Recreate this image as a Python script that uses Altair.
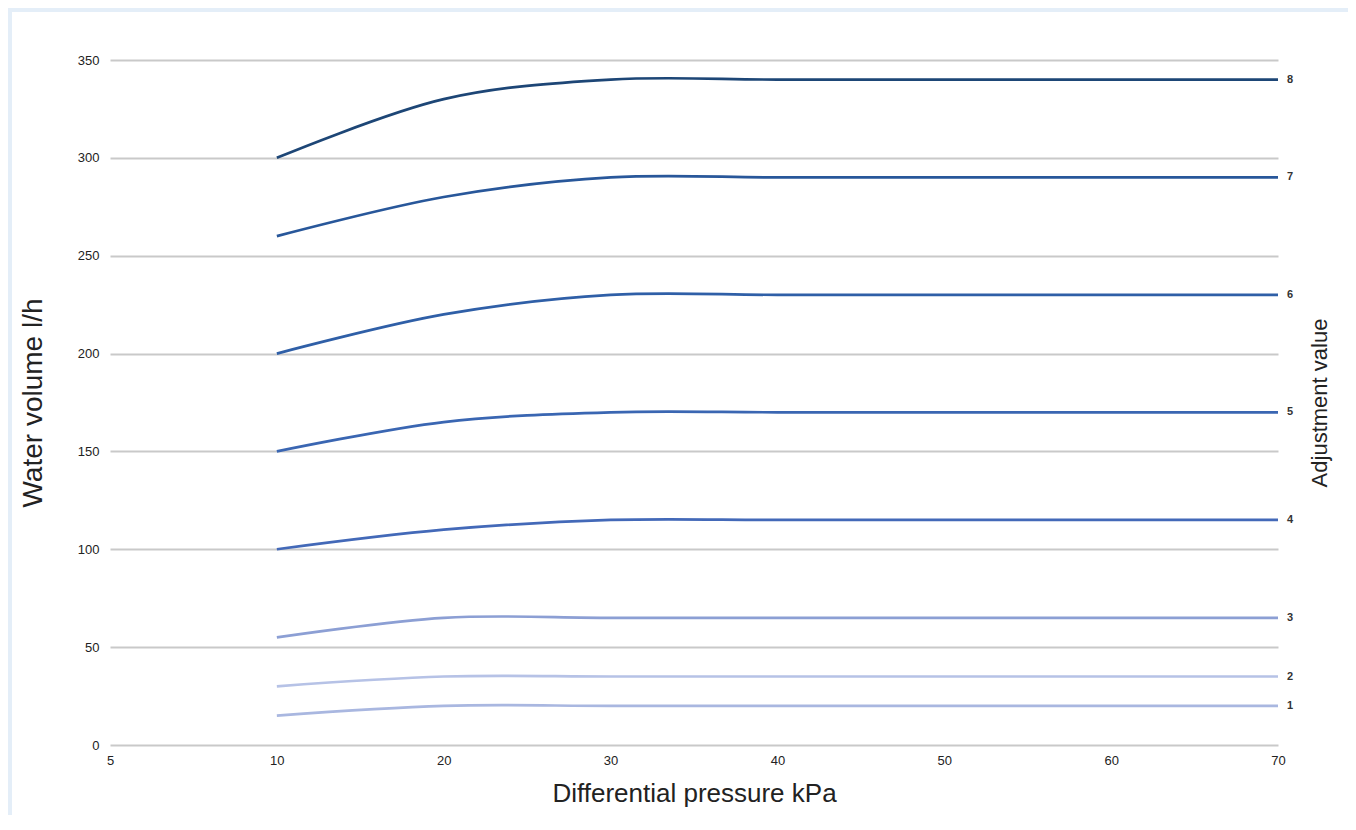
import altair as alt
import pandas as pd

x_labels = ["5", "10", "20", "30", "40", "50", "60", "70"]
data_x = ["10", "20", "30", "40", "50", "60", "70"]
series_names = ["1", "2", "3", "4", "5", "6", "7", "8"]
s1 = [15, 20, 20, 20, 20, 20, 20]
s2 = [30, 35, 35, 35, 35, 35, 35]
s3 = [55, 65, 65, 65, 65, 65, 65]
s4 = [100, 110, 115, 115, 115, 115, 115]
s5 = [150, 165, 170, 170, 170, 170, 170]
s6 = [200, 220, 230, 230, 230, 230, 230]
s7 = [260, 280, 290, 290, 290, 290, 290]
s8 = [300, 330, 340, 340, 340, 340, 340]
series_values = [s1, s2, s3, s4, s5, s6, s7, s8]
colors = ["#a9b7e0", "#b6c2e6", "#8c9fd4", "#4369b8", "#3a66b2", "#2f5fa7", "#28579a", "#1d4676"]
y_ticks = [0, 50, 100, 150, 200, 250, 300, 350]

rows = []
for name, vals in zip(series_names, series_values):
    for i, (xv, yv) in enumerate(zip(data_x, vals)):
        rows.append({"series": name, "p": xv, "v": yv, "idx": i})
df = pd.DataFrame(rows)
last = df[df["p"] == "70"]

W, H = 1168, 685
font = "Liberation Sans"
frame = "#e4eef8"

x_enc = alt.X("p:O", sort=x_labels,
              scale=alt.Scale(type="point", padding=0, domain=x_labels),
              axis=alt.Axis(title="Differential pressure kPa", labelAngle=0,
                            labelFontSize=13, labelColor="#222222", labelPadding=9,
                            titleFontSize=26, titleFontWeight="normal", titleColor="#222222",
                            titlePadding=13, ticks=False, domain=False, grid=False,
                            labelFont=font, titleFont=font))
y_scale = alt.Scale(domain=[0, 350], nice=False, zero=True)

dummy = pd.DataFrame({"a": [0]})
left_strip = alt.Chart(dummy).mark_rect(color=frame).encode(
    x=alt.value(-102), x2=alt.value(-98), y=alt.value(-52), y2=alt.value(H + 80)
)
top_strip = alt.Chart(dummy).mark_rect(color=frame).encode(
    x=alt.value(-102), x2=alt.value(W + 70), y=alt.value(-52), y2=alt.value(-48)
)

lines = alt.Chart(df).mark_line(interpolate="catmull-rom", strokeWidth=2.7).encode(
    x=x_enc,
    y=alt.Y("v:Q", scale=y_scale,
            axis=alt.Axis(title="Water volume l/h", values=y_ticks,
                          labelFontSize=13, labelColor="#222222", labelPadding=11,
                          titleFontSize=28, titleFontWeight="normal", titleColor="#222222",
                          titlePadding=30, ticks=False, domain=False,
                          gridColor="#c9c9c9", gridWidth=2,
                          labelFont=font, titleFont=font)),
    color=alt.Color("series:N", scale=alt.Scale(domain=series_names, range=colors), legend=None),
    order=alt.Order("idx:Q"),
)

labels = alt.Chart(last).mark_text(align="left", dx=9, fontSize=11, fontWeight="bold",
                                   color="#333333", font=font).encode(
    x=alt.X("p:O", sort=x_labels, scale=alt.Scale(type="point", padding=0, domain=x_labels)),
    y=alt.Y("v:Q", scale=y_scale,
            axis=alt.Axis(orient="right", title="Adjustment value", labels=False, ticks=False,
                          domain=False, grid=False, titleFontSize=22, titleFontWeight="normal",
                          titleColor="#222222", titlePadding=31, titleAngle=270,
                          titleBaseline="top", titleFont=font)),
    text="series:N",
)

chart = alt.layer(lines, labels, left_strip, top_strip).resolve_axis(y="independent").properties(
    width=W, height=H,
    padding={"left": 102, "top": 52, "right": 70, "bottom": 70},
    autosize=alt.AutoSizeParams(type="none"),
    background="white",
).configure_view(stroke=None)

chart.save("out.html", embed_options={"renderer": "svg", "actions": False})
